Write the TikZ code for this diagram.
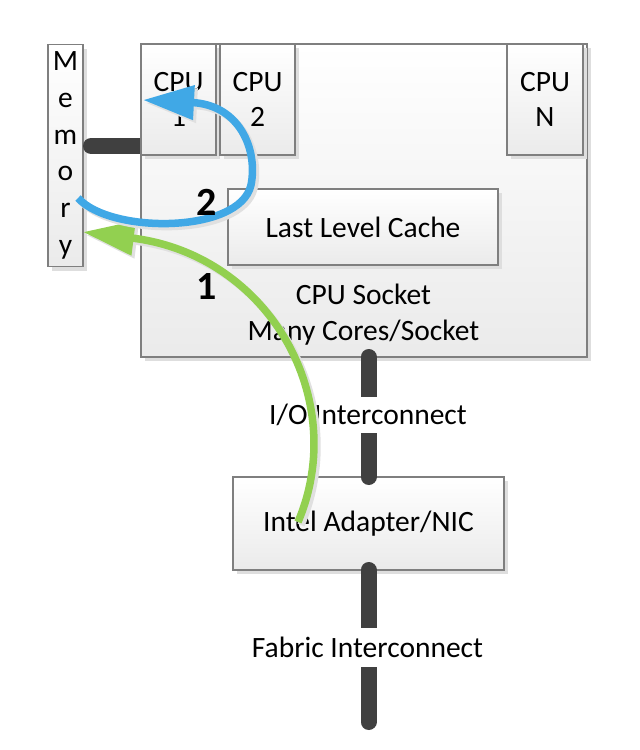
\documentclass[tikz,border=0pt]{standalone}
\usepackage{fontspec}
\setmainfont{Carlito}
\usetikzlibrary{arrows.meta,shadows}
\definecolor{barcol}{HTML}{404040}
\definecolor{bluearr}{RGB}{64,168,230}
\definecolor{greenarr}{HTML}{92D050}
\definecolor{boxline}{HTML}{7F7F7F}
\newcommand\greencurve{(gstart) .. controls (350,400) and (270,255) .. (gend)}
\newcommand\bluecurve{(bstart) .. controls (110,234) and (240,234) .. (251,185) .. controls (258,150) and (240,105) .. (bend)}
\begin{document}
\begin{tikzpicture}[x=1pt,y=-1pt,
  font=\fontsize{29.5}{35.4}\selectfont,
  box/.style={draw=boxline, line width=1.1pt, top color=white, bottom color=black!8,
    inner sep=0pt, outer sep=0pt, align=center,
    drop shadow={shadow xshift=4pt, shadow yshift=-4pt, fill=black!13, opacity=1}},
  bus/.style={draw=barcol, line width=16pt, line cap=round},
  flow/.style={line width=7.5pt, -{Triangle[length=51pt,width=33pt]}},
  flowshadow/.style={draw=black!12, line width=7.5pt, -{Triangle[length=51pt,width=33pt]},
    transform canvas={shift={(3,3)}}},
  lbl/.style={inner sep=0pt, fill=white},
  num/.style={font=\fontsize{40}{44}\selectfont\bfseries, inner sep=0pt}
]
\useasboundingbox (0,0) rectangle (640,750);

% memory
\node[box, minimum width=35pt, minimum height=222pt] (memory) at (65.5,155.5)
  {M\\[1.3pt]e\\[1.3pt]m\\[1.3pt]o\\[1.3pt]r\\[1.3pt]y};

% socket
\node[box, minimum width=446pt, minimum height=313pt] (socket) at (364,200.5) {};

% memory bus
\draw[bus] ([xshift=8pt]memory.east |- 0,146) -- (socket.west |- 0,146);

% cores and cache
\node[box, minimum width=75pt, minimum height=111pt] (cpu1) at (178.5,99.5) {CPU\\1};
\node[box, minimum width=75pt, minimum height=111pt] (cpu2) at (257.5,99.5) {CPU\\2};
\node[box, minimum width=76pt, minimum height=111pt] (cpun) at (545,99.5) {CPU\\N};
\node[box, minimum width=270pt, minimum height=76pt] (llc) at (363,227) {Last Level Cache};
\node[align=center, inner sep=0pt] (socketlbl) at (363.5,314.5) {CPU Socket\\Many Cores/Socket};

% adapter
\node[box, minimum width=271pt, minimum height=93pt] (adapter) at (368.5,523.5) {Intel Adapter/NIC};

% interconnects
\draw[bus] (adapter.north |- socket.south) -- (adapter.north);
\node[lbl, minimum height=36pt] (io) at (368,415) {I/O Interconnect};
\coordinate (fabend) at ([yshift=-152pt]adapter.south);
\draw[bus] (adapter.south) -- (fabend);
\node[lbl, minimum height=39pt] (fabric) at (367.5,647.5) {Fabric Interconnect};

% flows
\coordinate (gstart) at (298,522);
\coordinate (gend) at (memory.east |- 0,232);
\coordinate (bstart) at (78,198);
\coordinate (bend) at ([xshift=2pt]cpu1.west |- 0,100);

\draw[flowshadow] \greencurve;
\draw[flow, draw=greenarr] \greencurve;
\draw[flowshadow] \bluecurve;
\draw[flow, draw=bluearr] \bluecurve;

\node[num] (n2) at (207,202) {2};
\node[num] (n1) at (207,287) {1};
\end{tikzpicture}
\end{document}
